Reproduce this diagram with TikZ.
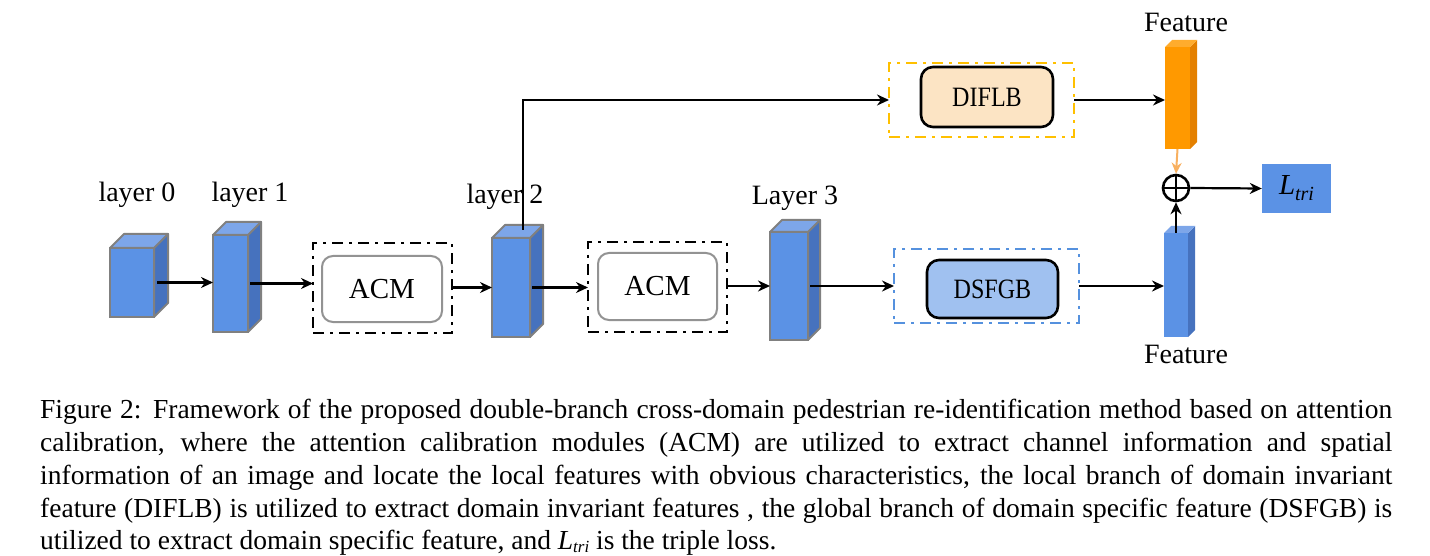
\documentclass[tikz,border=0pt]{standalone}
\usepackage{fontspec}
\setmainfont{Liberation Serif}
\usetikzlibrary{calc,arrows.meta}
\definecolor{bfront}{RGB}{91,146,229}
\definecolor{bside}{RGB}{70,114,190}
\definecolor{btop}{RGB}{125,166,233}
\definecolor{ofront}{RGB}{255,153,0}
\definecolor{oside}{RGB}{228,128,0}
\definecolor{otop}{RGB}{255,172,45}
\definecolor{cubeborder}{RGB}{128,128,128}
\definecolor{peach}{RGB}{252,228,196}
\definecolor{lblue}{RGB}{160,193,240}
\definecolor{odash}{RGB}{255,192,0}
\definecolor{bdash}{RGB}{85,145,222}
\definecolor{oarrow}{RGB}{248,176,96}
\definecolor{ltribox}{RGB}{91,146,229}
\newcommand{\mycube}[8]{% name, cx, cy, w, h, depth, colour prefix, border
  \node[draw=#8, fill=#7front, line width=2pt, outer sep=0pt, inner sep=0pt,
        minimum width=#4pt, minimum height=#5pt] (#1) at (#2,#3) {};
  \filldraw[draw=#8, fill=#7side, line width=2pt, line join=round]
    (#1.north east) -- ++(#6,-#6) -- ($(#1.south east)+(#6,-#6)$) -- (#1.south east) -- cycle;
  \filldraw[draw=#8, fill=#7top, line width=2pt, line join=round]
    (#1.north west) -- ++(#6,-#6) -- ($(#1.north east)+(#6,-#6)$) -- (#1.north east) -- cycle;
}
\newcommand{\narrow}[1]{\scalebox{0.86}[1]{#1}}
\begin{document}
\begin{tikzpicture}[x=1pt,y=-1pt,
  arr/.style={-{Stealth[length=12pt,width=11pt]}, line width=2.2pt, black},
  lbl/.style={font=\fontsize{28}{32}\selectfont, inner sep=0pt},
  acmouter/.style={draw, line width=2.6pt, dash pattern=on 11pt off 6pt on 3pt off 6pt,
      minimum width=139pt, minimum height=90pt, inner sep=0pt, outer sep=0pt},
  acminner/.style={draw=gray!85, line width=2pt, rounded corners=11pt, fill=white,
      minimum width=120pt, minimum height=66pt, inner sep=0pt,
      font=\fontsize{29}{32}\selectfont},
  brouter/.style={line width=2.4pt, dash pattern=on 11pt off 6pt on 3pt off 6pt,
      minimum width=185pt, minimum height=74pt, inner sep=0pt, outer sep=0pt},
  brinner/.style={draw=black, line width=2.6pt, rounded corners=12pt,
      minimum width=132pt, inner sep=0pt, font=\fontsize{28}{32}\selectfont},
  caption/.style={anchor=base west, inner sep=0pt, font=\fontsize{27.5}{33}\selectfont}
]
\useasboundingbox (0,0) rectangle (1430,556);

% labels
\node[lbl] (l0) at (137,195) {layer 0};
\node[lbl] (l1) at (250,195) {layer 1};
\node[lbl] (l2) at (505,197) {layer 2};
\node[lbl] (l3) at (795,198) {Layer 3};
\node[lbl] (ft) at (1186,22) {Feature};
\node[lbl] (fb) at (1186,354) {Feature};

% cubes
\mycube{c0}{132}{282.5}{44}{69}{14}{b}{cubeborder}
\mycube{c1}{230.5}{283.5}{35}{97}{13}{b}{cubeborder}
\mycube{c2}{511}{287.5}{38}{99}{13}{b}{cubeborder}
\mycube{c3}{789}{286}{38}{108}{12}{b}{cubeborder}
\mycube{fo}{1177.5}{98}{25}{102}{7}{o}{none}
\mycube{fb2}{1176}{285}{24}{104}{7}{b}{none}

% ACM blocks
\node[acmouter] (a1o) at (382.5,288) {};
\node[acminner] (a1) at (382,289) {ACM};
\node[acmouter] (a2o) at (657.5,287) {};
\node[acminner, minimum width=119pt, minimum height=67pt] (a2) at (657.5,286.5) {ACM};

% branch blocks
\node[brouter, draw=odash] (dio) at (981.5,100) {};
\node[brinner, fill=peach, minimum height=60pt] (di) at (987,97) {\narrow{DIFLB}};
\node[brouter, draw=bdash] (dso) at (986.5,286) {};
\node[brinner, fill=lblue, minimum width=131pt, minimum height=58pt] (ds) at (992.5,289) {\narrow{DSFGB}};

% sum and loss
\node[draw, circle, line width=2.6pt, minimum size=26pt, inner sep=0pt] (plus) at (1176,188) {};
\draw[line width=2.4pt] (plus.north) -- (plus.south) (plus.west) -- (plus.east);
\node[fill=ltribox, minimum width=69pt, minimum height=49pt, inner sep=0pt] (ltri) at (1296.5,188.5)
  {\fontsize{29}{30}\selectfont\textit{L}\raisebox{-6pt}{\fontsize{20}{20}\selectfont\textit{tri}}};

% connectors
\draw[arr] ($(c0.east)+(3,0)$) -- (c0.east -| c1.west);
\draw[arr] ($(c1.east)+(2,0)$) -- (c1.east -| a1o.west);
\draw[arr] (a1o.east |- c2.west) -- (c2.west);
\draw[arr] ($(c2.east)+(2,0)$) -- (c2.east -| a2o.west);
\draw[arr] (a2o.east |- c3.west) -- (c3.west);
\draw[arr] ($(c3.east)+(2,0)$) -- (c3.east -| dso.west);
\draw[arr] (dso.east) -- (dso.east -| fb2.west);
\draw[arr] ($(c2.north)+(12,-8)$) |- (dio.west);
\draw[arr] (dio.east) -- (dio.east -| fo.west);
\draw[-{Stealth[length=11pt,width=10pt]}, line width=2pt, oarrow] (fo.south) -- (plus.north);
\draw[arr] (fb2.north) -- (plus.south);
\draw[arr] (plus.east) -- (ltri.west);

% caption
\node[caption] (cap1) at (40,418) {\makebox[1352pt][s]{Figure 2: Framework of the proposed double-branch cross-domain pedestrian re-identification method based on attention}};
\node[caption] (cap2) at (40,451) {\makebox[1352pt][s]{calibration, where the attention calibration modules (ACM) are utilized to extract channel information and spatial}};
\node[caption] (cap3) at (40,484) {\makebox[1352pt][s]{information of an image and locate the local features with obvious characteristics, the local branch of domain invariant}};
\node[caption] (cap4) at (40,517) {\makebox[1352pt][s]{feature (DIFLB) is utilized to extract domain invariant features , the global branch of domain specific feature (DSFGB) is}};
\node[caption] (cap5) at (40,549) {utilized to extract domain specific feature, and \textit{L}\raisebox{-3pt}{\fontsize{17}{18}\selectfont\textit{tri}} is the triple loss.};
\end{tikzpicture}
\end{document}
